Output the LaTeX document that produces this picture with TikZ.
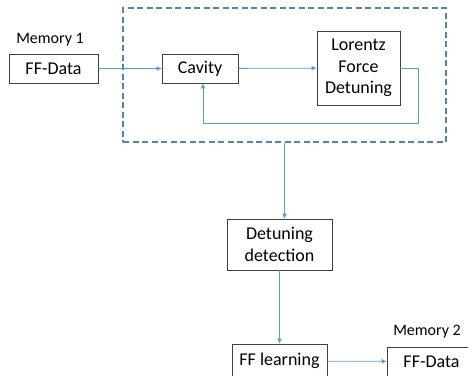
\documentclass[tikz,border=0pt]{standalone}
\usepackage{fontspec}
\setmainfont{Carlito}
\usetikzlibrary{arrows.meta}

\definecolor{linkblue}{HTML}{5B9BD5}
\definecolor{dashblue}{HTML}{5282BE}

\begin{document}
\begin{tikzpicture}[x=1pt, y=-1pt,
    block/.style={draw=black!75, line width=0.8pt, inner sep=0pt, align=center,
        font=\fontsize{18}{21.5}\selectfont},
    memlabel/.style={inner sep=0pt, font=\fontsize{16}{19}\selectfont},
    link/.style={draw=linkblue, line width=0.8pt, -{Latex[length=5pt, width=5pt]}},
    loopbox/.style={draw=dashblue, line width=1.3pt, dash pattern=on 6pt off 3.5pt, inner sep=0pt}]

    \useasboundingbox (0, 0) rectangle (468, 375);

    % these are the boxes
    \node[memlabel] (mem1) at (50, 40) {Memory 1};
    \node[block, minimum width=89pt, minimum height=29pt] (ffdata1) at (53.5, 68.5) {FF-Data};
    \node[block, minimum width=76pt, minimum height=29pt] (cavity) at (200, 68.5) {Cavity};
    \node[block, minimum width=83pt, minimum height=74pt] (lorentz) at (358.5, 68) {Lorentz\\Force\\Detuning};
    \node[loopbox, minimum width=323pt, minimum height=134pt] (loop) at (284.5, 75) {};

    \node[block, minimum width=105pt, minimum height=51pt] (detect) at (279.5, 244.5) {Detuning\\detection};
    \node[block, minimum width=95pt, minimum height=34pt] (learn) at (279.5, 361) {FF learning};
    \node[memlabel] (mem2) at (427, 332) {Memory 2};
    \node[block, minimum width=89pt, minimum height=29pt] (ffdata2) at (431.5, 361.5) {FF-Data};

    % feedback corners
    \coordinate (fbR) at (418, 123);
    \coordinate (fbL) at (203, 123);

    % these are the links
    \draw[link] (ffdata1) -- (cavity);
    \draw[link] (cavity) -- (lorentz);
    \draw[link] (lorentz.east) -| (fbR) -- (fbL) -- (fbL |- cavity.south);
    \draw[link] (loop.south) -- (loop.south |- detect.north);
    \draw[link] (detect) -- (learn);
    \draw[link] (learn) -- (ffdata2);

\end{tikzpicture}
\end{document}
